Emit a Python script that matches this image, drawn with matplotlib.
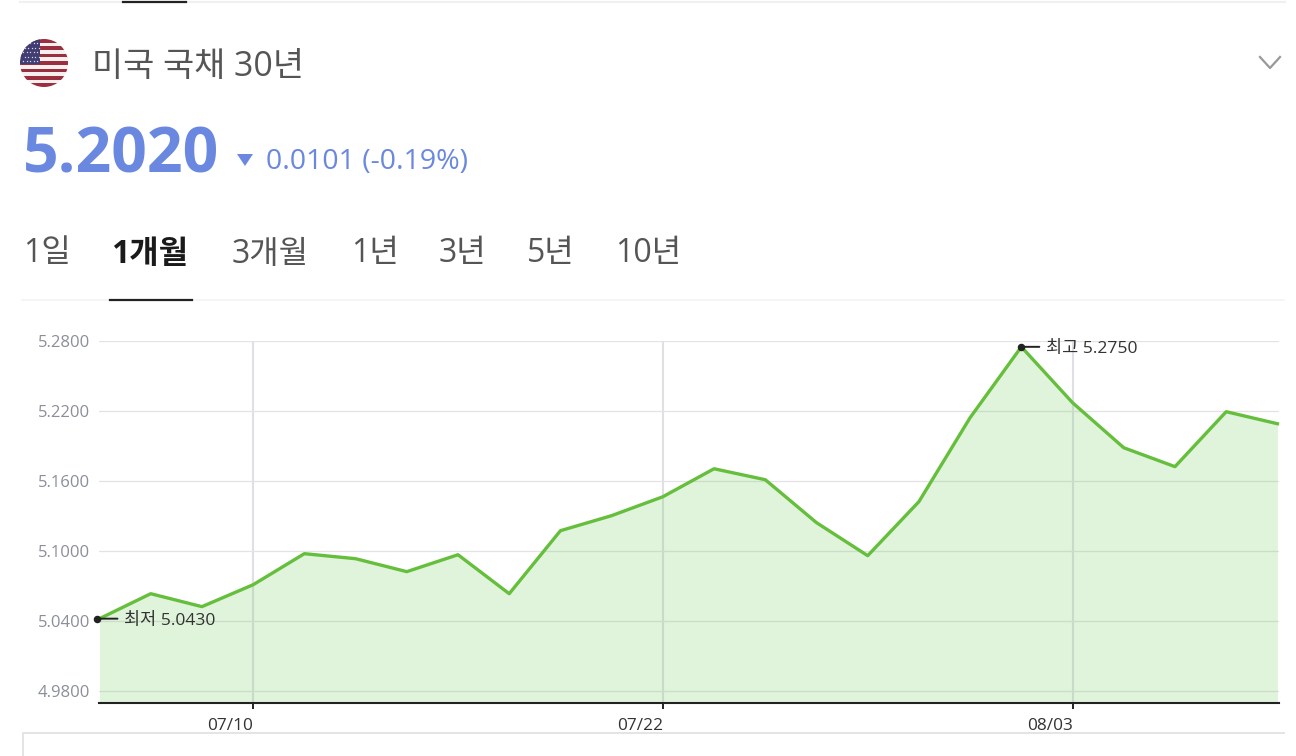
import matplotlib.pyplot as plt
from matplotlib.patches import Circle, Polygon, Rectangle
from matplotlib.transforms import ScaledTranslation

plt.rcParams['font.family'] = ['Open Sans', 'Noto Sans CJK KR', 'DejaVu Sans']

W, H = 1296, 756

# 값은 그림에서 읽은 것
values = [5.042, 5.0634, 5.0523, 5.0711, 5.0977, 5.0934, 5.0823, 5.0968,
          5.0634, 5.1174, 5.1303, 5.1465, 5.1705, 5.1611, 5.1243, 5.096,
          5.1423, 5.2143, 5.275, 5.2271, 5.1885, 5.1723, 5.2194, 5.2091]
y_ticks = [4.98, 5.04, 5.10, 5.16, 5.22, 5.28]
x_tick_pos = [3, 11, 19]
x_tick_labels = ['07/10', '07/22', '08/03']
low_idx, low_label = 0, '최저 5.0430'
high_idx, high_label = 18, '최고 5.2750'
title = '미국 국채 30년'
price = '5.2020'
change = '0.0101 (-0.19%)'
tabs = ['1일', '1개월', '3개월', '1년', '3년', '5년', '10년']
tab_x = [23, 111, 232, 351, 439, 527, 615]

GREEN = '#66bf3c'
BLUE = '#6b88e0'
DARK = '#222222'

fig = plt.figure(figsize=(W / 100, H / 100), dpi=100)

# 바깥 장식은 픽셀 좌표 축에 그린다
bg = fig.add_axes([0, 0, 1, 1])
bg.set_xlim(0, W)
bg.set_ylim(H, 0)
bg.axis('off')

bg.plot([20, 1285], [2, 2], color='#f0f0f0', lw=1.6)
bg.plot([123, 186], [2, 2], color=DARK, lw=1.6)
bg.plot([22, 1284], [300, 300], color='#f3f3f3', lw=1.2)
bg.plot([110, 192], [300, 300], color=DARK, lw=1.6)
bg.plot([23, 23, 1284], [756, 733, 733], color='#e4e4e4', lw=1.4)

# 국기
clip = Circle((44, 63), 24, transform=bg.transData)
for k in range(13):
    c = '#9c2f3f' if k % 2 == 0 else '#f4f0f0'
    r = bg.add_patch(Rectangle((20, 39 + k * 48 / 13), 48, 48 / 13 + 0.3, color=c, lw=0))
    r.set_clip_path(clip)
r = bg.add_patch(Rectangle((20, 39), 20, 25, color='#3f3d72', lw=0))
r.set_clip_path(clip)
for row in range(5):
    for col in range(5):
        s = bg.scatter(23 + col * 3.6 + (row % 2) * 1.5, 43 + row * 4.6, s=1, color='#d8d8e6', lw=0)
        s.set_clip_path(clip)

bg.text(92, 67, title, fontsize=24.4, color='#555555', va='center')
bg.plot([1260, 1270, 1280], [57, 68, 57], color='#999999', lw=1.6)

bg.text(23, 156, price, fontsize=45, color=BLUE, weight='bold', va='center')
bg.add_patch(Polygon([[237, 154], [253, 154], [245, 166]], color=BLUE, lw=0))
bg.text(266, 162, change, fontsize=20.5, color=BLUE, va='center')

for name, x in zip(tabs, tab_x):
    active = name == '1개월'
    bg.text(x, 254, name, fontsize=23, va='center',
            color='#1a1a1a' if active else '#555555',
            weight='bold' if active else 'normal')

# 차트
ax = fig.add_axes([98.5 / W, 1 - 703 / H, (1279 - 98.5) / W, (703 - 341) / H])
ax.patch.set_alpha(0)
xs = list(range(len(values)))
ax.set_xlim(-1 / 51.17, 1179.5 / 51.17 - 1 / 51.17)
ax.set_ylim(4.98 - 12 / 70 * 0.06, 5.28)

ax.set_yticks(y_ticks)
ax.set_yticklabels(['%.4f' % v for v in y_ticks], fontsize=12, color='#8b8f9a')
ax.set_xticks(x_tick_pos)
ax.set_xticklabels(x_tick_labels, fontsize=12.4, color='#333333', ha='right')
for lab in ax.get_xticklabels():
    lab.set_transform(lab.get_transform() + ScaledTranslation(-2.5 / 100, 0, fig.dpi_scale_trans))
ax.tick_params(axis='y', length=0, pad=6)
ax.tick_params(axis='x', length=4.5, width=1.4, color=DARK, pad=6)
ax.grid(axis='y', color='#e3e3e6', lw=0.9)
ax.grid(axis='x', color='#dfe0e6', lw=1.5)
ax.set_axisbelow(True)
for side in ['top', 'left', 'right']:
    ax.spines[side].set_visible(False)
ax.spines['bottom'].set_color(DARK)
ax.spines['bottom'].set_linewidth(1.5)

ax.fill_between(xs, values, ax.get_ylim()[0], color='#64c850', alpha=0.2, lw=0, zorder=2)
ax.plot(xs, values, color=GREEN, lw=2.4, zorder=3, clip_on=False)

for idx, label, dx in [(low_idx, low_label, -2), (high_idx, high_label, 0)]:
    # 점, 지시선, 글자는 데이터 점에서 띄워서 그린다
    ax.annotate('', xy=(idx, values[idx]), xycoords='data',
                xytext=(18 * 0.72, 0), textcoords='offset points',
                arrowprops=dict(arrowstyle='-', color=DARK, lw=1.4, shrinkA=0, shrinkB=0),
                zorder=5)
    ax.annotate(label, xy=(idx, values[idx]), xytext=(24.5 * 0.72, -1.5), textcoords='offset points',
                fontsize=12.6, color='#333333', va='center', zorder=5, annotation_clip=False)
    ax.plot([idx + dx / 51.17], [values[idx]], 'o', color=DARK, ms=4.4, zorder=6, clip_on=False)

fig.savefig('out.png', dpi=100)
